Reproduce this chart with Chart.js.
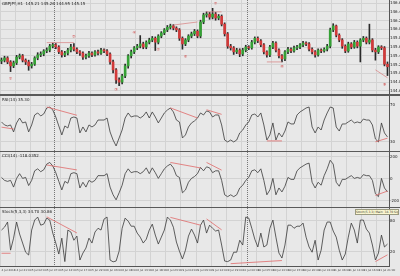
<!DOCTYPE html>
<html>
<head>
<meta charset="utf-8">
<script src="https://cdn.jsdelivr.net/npm/chart.js@4.4.1/dist/chart.umd.min.js"></script>
<style>
  html, body { margin: 0; padding: 0; background: #e8e8e8; }
  #wrap { position: relative; width: 400px; height: 276px; overflow: hidden; background: #e8e8e8; }
  canvas { position: absolute; left: 0; }
  .sep { position: absolute; left: 0; width: 400px; background: #5a5a5a; }
  #tip { position: absolute; left: 355px; top: 209px; width: 42px; height: 4px; background: #fbf7d0;
         border: 1px solid #9a9a80; font: 3px "DejaVu Sans"; line-height: 4px; color: #333; overflow: hidden; white-space: nowrap; }
</style>
</head>
<body>
<div id="wrap">
  <canvas id="main" width="400" height="94" style="top:0"></canvas>
  <div class="sep" style="top:94px;height:2px"></div>
  <canvas id="rsi" width="400" height="55" style="top:96px"></canvas>
  <div class="sep" style="top:151px;height:1px"></div>
  <canvas id="cci" width="400" height="55" style="top:152px"></canvas>
  <div class="sep" style="top:207px;height:1px"></div>
  <canvas id="stoch" width="400" height="68" style="top:208px"></canvas>
  <div id="tip">Stoch(5,3,3) Main: 34.70 Signal: 30.86</div>
</div>
<script>
// GBPJPY H1 candles
const opens = [145.28,145.30,145.35,145.26,145.17,145.24,145.37,145.40,145.30,145.26,
  145.17,145.21,145.35,145.42,145.44,145.51,145.53,145.62,145.65,145.60,
  145.49,145.42,145.46,145.53,145.60,145.55,145.49,145.46,145.37,145.40,
  145.46,145.42,145.49,145.46,145.53,145.51,145.44,145.26,145.08,144.85,
  144.80,144.94,145.17,145.40,145.49,145.58,145.62,145.67,145.60,145.71,
  145.76,145.80,145.71,145.85,145.92,145.99,146.05,146.08,146.03,145.99,
  145.80,145.67,145.76,145.85,145.90,145.96,145.85,146.17,146.33,146.35,
  146.28,146.35,146.26,146.30,146.12,145.90,145.62,145.58,145.49,145.53,
  145.44,145.53,145.60,145.58,145.71,145.80,145.74,145.65,145.49,145.42,
  145.60,145.69,145.53,145.40,145.33,145.49,145.55,145.51,145.58,145.60,
  145.65,145.69,145.67,145.55,145.49,145.42,145.53,145.51,145.55,145.62,
  145.99,146.08,145.87,145.76,145.62,145.51,145.67,145.60,145.71,145.62,
  145.76,145.80,145.71,145.76,145.53,145.49,145.60,145.58,145.21];
const highs = [145.35,145.39,145.38,145.29,145.28,145.41,145.44,145.43,145.33,145.30,
  145.25,145.38,145.47,145.49,145.54,145.58,145.66,145.69,145.68,145.63,
  145.52,145.50,145.57,145.66,145.68,145.58,145.52,145.49,145.44,145.50,
  145.49,145.52,145.53,145.57,145.56,145.54,145.47,145.30,145.11,144.90,
  144.98,145.21,145.43,145.53,145.61,145.66,145.86,145.71,145.74,145.80,
  145.84,145.83,145.88,145.95,146.02,146.09,146.12,146.11,146.06,146.02,
  145.83,145.79,145.88,145.94,146.00,145.99,146.21,146.37,146.40,146.39,
  146.48,146.39,146.34,146.33,146.15,145.93,145.66,145.61,145.57,145.56,
  145.57,145.64,145.63,145.75,145.83,145.83,145.77,145.68,145.51,145.64,
  145.73,145.72,145.56,145.43,145.52,145.59,145.58,145.62,145.64,145.68,
  145.73,145.72,145.70,145.58,145.52,145.56,145.56,145.58,145.66,146.03,
  146.13,146.10,145.90,145.79,145.65,145.71,145.70,145.75,145.74,145.79,
  145.84,145.83,146.12,145.79,145.57,145.63,145.63,145.61,145.26];
const lows = [145.22,145.26,145.22,145.04,145.13,145.20,145.33,145.26,145.20,145.07,
  145.12,145.18,145.31,145.38,145.40,145.47,145.49,145.58,145.56,145.45,
  145.37,145.38,145.42,145.49,145.51,145.45,145.41,145.32,145.33,145.36,
  145.38,145.39,145.42,145.43,145.47,145.40,145.21,145.01,144.77,144.72,
  144.76,144.90,145.12,145.35,145.45,145.54,145.58,145.56,145.56,145.67,
  145.72,145.52,145.67,145.81,145.88,145.95,146.01,145.99,145.95,145.75,
  145.55,145.63,145.72,145.81,145.86,145.81,145.81,146.13,146.28,146.23,
  146.24,146.21,146.22,146.08,145.85,145.57,145.53,145.43,145.45,145.38,
  145.40,145.49,145.54,145.55,145.67,145.70,145.61,145.44,145.37,145.38,
  145.56,145.49,145.35,145.26,145.29,145.45,145.47,145.48,145.54,145.56,
  145.61,145.63,145.51,145.44,145.37,145.39,145.47,145.48,145.51,145.58,
  145.95,145.83,145.72,145.57,145.47,145.48,145.56,145.57,145.58,145.26,
  145.72,145.67,145.67,145.49,145.30,145.45,145.54,145.17,144.95];
const closes = [145.30,145.35,145.26,145.17,145.24,145.37,145.40,145.30,145.26,145.17,
  145.21,145.35,145.42,145.44,145.51,145.53,145.62,145.65,145.60,145.49,
  145.42,145.46,145.53,145.60,145.55,145.49,145.46,145.37,145.40,145.46,
  145.42,145.49,145.46,145.53,145.51,145.44,145.26,145.08,144.85,144.80,
  144.94,145.17,145.40,145.49,145.58,145.62,145.67,145.60,145.71,145.76,
  145.80,145.71,145.85,145.92,145.99,146.05,146.08,146.03,145.99,145.80,
  145.67,145.76,145.85,145.90,145.96,145.85,146.17,146.33,146.35,146.28,
  146.35,146.26,146.30,146.12,145.90,145.62,145.58,145.49,145.53,145.44,
  145.53,145.60,145.58,145.71,145.80,145.74,145.65,145.49,145.42,145.60,
  145.69,145.53,145.40,145.33,145.49,145.55,145.51,145.58,145.60,145.65,
  145.69,145.67,145.55,145.49,145.42,145.53,145.51,145.55,145.62,145.99,
  146.08,145.87,145.76,145.62,145.51,145.67,145.60,145.71,145.62,145.76,
  145.80,145.71,145.76,145.53,145.49,145.60,145.58,145.21,145.15];

// indicators
const rsi = [51.7,48.4,47.3,48.4,40.8,50.6,56.0,50.6,51.7,40.8,
  48.4,59.3,61.5,58.2,60.4,66.9,68.0,64.7,57.1,47.3,
  37.5,47.3,45.1,56.0,57.1,56.0,39.7,46.2,40.8,48.4,
  46.2,48.4,53.8,53.8,53.8,56.0,40.8,32.0,25.5,34.2,
  42.9,56.0,61.5,57.1,58.2,58.2,56.0,58.2,62.6,56.0,
  62.6,57.1,50.6,56.0,61.5,64.7,66.9,62.6,53.8,51.7,
  34.2,37.5,46.2,50.6,52.8,56.0,61.5,59.3,63.7,62.6,
  57.1,59.3,59.3,48.4,32.0,29.9,32.0,29.9,32.0,39.7,
  42.9,48.4,51.7,59.3,60.4,57.1,61.5,48.4,32.0,37.5,
  50.6,32.0,39.7,35.3,41.8,51.7,49.5,49.5,59.3,62.6,
  64.7,66.9,68.0,46.2,39.7,46.2,42.9,53.8,61.5,68.0,
  66.9,46.2,41.8,49.5,49.5,51.7,53.8,50.6,51.7,50.6,
  54.9,53.8,53.8,48.4,33.1,29.9,50.6,39.7,35.3];
const cci = [14,-13,-22,-13,-74,5,48,5,14,-60,
  -13,74,92,66,83,135,150,118,57,-22,
  -100,-22,-39,48,57,48,-82,-30,-74,-13,
  -30,-13,30,30,30,48,-74,-144,-190,-126,
  -57,48,92,57,66,66,48,66,101,48,
  101,57,5,48,92,118,135,101,30,14,
  -126,-100,-30,5,22,48,105,74,110,101,
  57,74,74,-13,-144,-161,-144,-161,-144,-82,
  -57,-13,14,74,83,57,92,-13,-144,-100,
  5,-144,-82,-118,-66,14,-4,-4,74,101,
  118,135,144,-30,-82,-30,-57,30,92,170,
  135,-30,-66,-4,-4,14,30,5,14,5,
  39,30,30,-13,-135,-161,5,-82,-118];
const stoch = [61.6,67.2,77.0,23.0,46.0,77.0,53.9,36.6,19.0,13.6,
  61.6,80.8,86.6,71.0,73.0,84.6,80.8,55.8,36.6,15.5,
  46.0,1.0,61.6,57.8,42.0,50.0,4.0,17.4,27.0,46.0,
  36.6,57.8,65.0,61.6,82.7,86.6,4.0,0.5,2.0,21.0,
  65.0,84.6,78.8,69.0,69.0,55.8,48.0,36.6,44.0,61.6,
  73.0,52.0,34.7,48.0,61.6,86.6,80.8,67.0,38.6,21.0,
  5.9,23.0,50.0,63.5,52.0,36.6,71.0,80.8,55.8,71.0,
  65.0,59.7,61.6,32.8,2.0,1.0,4.0,19.0,19.0,42.0,
  32.8,86.6,84.6,65.0,44.0,29.0,55.8,29.0,32.8,65.0,
  80.8,48.0,17.4,7.8,32.8,71.0,71.0,65.0,69.0,69.0,
  75.0,48.0,29.0,19.0,42.0,4.0,23.0,61.6,77.0,77.0,
  59.7,48.0,23.0,4.0,15.5,48.0,75.0,61.6,36.6,80.8,
  80.8,63.5,55.8,32.8,4.0,17.4,52.0,29.0,34.7];

// x tick labels, one every 5 bars
const tickLabels = ['4 Jul 2018','4 Jul 21:00','5 Jul 02:00','5 Jul 07:00','5 Jul 12:00','5 Jul 17:00',
  '5 Jul 22:00','6 Jul 03:00','6 Jul 08:00','6 Jul 13:00','6 Jul 18:00','6 Jul 23:00','9 Jul 04:00',
  '9 Jul 09:00','9 Jul 14:00','9 Jul 19:00','10 Jul 00:00','10 Jul 05:00','10 Jul 10:00','10 Jul 15:00',
  '10 Jul 20:00','11 Jul 01:00','11 Jul 06:00','11 Jul 11:00','11 Jul 16:00','11 Jul 21:00'];
const priceTicks = [146.60,146.40,146.20,146.00,145.80,145.60,145.40,145.20,145.00,144.80,144.60];
const rsiTicks = [70, 30];
const cciTicks = [200, 0, -200];
const stochTicks = [80, 20];

// divergence lines: [bar1, value1, bar2, value2]
const mainLines = [[15,145.70,24,145.70],[57,146.10,65,146.17],[68,146.40,73,146.40],[88,145.26,93,145.26],[124,145.08,128,144.90]];
const rsiLines = [[0,46,4,44],[15,68,25,59],[56,67,65,56],[68,65,73,60],[88,31,93,31],[124,30,128,34]];
const cciLines = [[15,127,25,82],[56,150,66,100],[68,150,73,80],[124,-150,128,-110]];
const stochLines = [[0,17,3,17],[15,87,25,56],[56,86,66,71],[68,83,73,62],[76,-3,93,3],[124,1,128,14]];

// small markers on the price pane: [bar, price, text]
const marks = [[3,144.87,'①'],[24,145.83,'②'],[38,144.62,'③'],[44,145.92,'④'],[52,145.53,'⑤'],
  [61,145.37,'⑥'],[71,146.58,'⑦'],[93,145.15,'⑧'],[127,144.74,'⑨']];
const separators = [17, 81];

const FONT = 'DejaVu Sans';
const bars = closes.map((_, i) => i);

function xAxis(showLabels) {
  return {
    type: 'category',
    offset: true,
    grid: { offset: true, drawTicks: false, lineWidth: 1,
      color: c => c.index % 5 === 0 ? '#d3d3d3' : 'rgba(0,0,0,0)' },
    border: { display: showLabels, color: '#555' },
    ticks: {
      display: showLabels, autoSkip: false, maxRotation: 0, minRotation: 0, align: 'start', padding: 3,
      font: { size: 2.8, family: FONT }, color: '#444',
      callback: (v, i) => i % 5 === 0 ? tickLabels[i / 5] : ''
    },
    afterFit: s => { s.height = showLabels ? 10 : 0; s.paddingLeft = 0; s.paddingRight = 0; }
  };
}

function yAxis(min, max, ticks, digits) {
  return {
    position: 'right', min: min, max: max,
    afterBuildTicks: s => { s.ticks = ticks.map(v => ({ value: v })); },
    afterFit: s => { s.width = 11; s.paddingTop = 0; s.paddingBottom = 0; },
    grid: { color: '#d3d3d3', drawTicks: false },
    border: { color: '#555' },
    ticks: { padding: 1, font: { size: 4, family: FONT }, color: '#222',
      callback: v => Number(v).toFixed(digits) }
  };
}

function segSets(segs, color) {
  return segs.map(s => ({
    type: 'line',
    data: bars.map(i => i === s[0] ? s[1] : (i === s[2] ? s[3] : null)),
    spanGaps: true, borderColor: color, borderWidth: 0.8, pointRadius: 0, order: -1
  }));
}

const paneTitle = {
  id: 'paneTitle',
  afterDraw(chart, args, opts) {
    const ctx = chart.ctx;
    ctx.save();
    ctx.font = '4px ' + FONT;
    ctx.fillStyle = '#222';
    ctx.textBaseline = 'top';
    ctx.fillText(opts.text, chart.chartArea.left + 2, chart.chartArea.top + 2);
    ctx.restore();
  }
};

const periodSep = {
  id: 'periodSep',
  beforeDatasetsDraw(chart) {
    const x = chart.scales.x, a = chart.chartArea, ctx = chart.ctx;
    ctx.save();
    ctx.strokeStyle = '#777';
    ctx.lineWidth = 1;
    ctx.setLineDash([1, 1]);
    separators.forEach(i => {
      const px = Math.round((x.getPixelForValue(i) + x.getPixelForValue(i + 1)) / 2) + 0.5;
      ctx.beginPath(); ctx.moveTo(px, a.top); ctx.lineTo(px, a.bottom); ctx.stroke();
    });
    ctx.restore();
  }
};

const markText = {
  id: 'markText',
  afterDatasetsDraw(chart) {
    const ctx = chart.ctx;
    ctx.save();
    ctx.font = '4px ' + FONT;
    ctx.fillStyle = '#d04848';
    ctx.textAlign = 'center';
    ctx.textBaseline = 'middle';
    marks.forEach(m => ctx.fillText(m[2], chart.scales.x.getPixelForValue(m[0]), chart.scales.y.getPixelForValue(m[1])));
    ctx.restore();
  }
};

const base = {
  responsive: false, animation: false, devicePixelRatio: 1,
  layout: { padding: 0 },
  events: []
};

const up = '#35a035', down = '#d23a3a';
const isUp = i => closes[i] >= opens[i];

new Chart(document.getElementById('main'), {
  type: 'bar',
  data: {
    labels: bars,
    datasets: [
      { data: opens.map((o, i) => [o, closes[i]]), grouped: false, barThickness: 2, minBarLength: 1,
        backgroundColor: c => isUp(c.dataIndex) ? up : down, borderWidth: 0, order: 0 },
      { data: lows.map((l, i) => [l, highs[i]]), grouped: false, barThickness: 1,
        backgroundColor: '#2a2a2a', borderWidth: 0, order: 1 },
      ...segSets(mainLines, '#d98a8a')
    ]
  },
  options: Object.assign({}, base, {
    scales: { x: xAxis(false), y: yAxis(144.53, 146.67, priceTicks, 2) },
    plugins: { legend: { display: false }, tooltip: { enabled: false },
      paneTitle: { text: 'GBPJPY,H1  145.21 145.26 144.95 145.15' } }
  }),
  plugins: [paneTitle, periodSep, markText]
});

function indicator(id, values, min, max, ticks, digits, lines, title, bottom) {
  new Chart(document.getElementById(id), {
    type: 'line',
    data: {
      labels: bars,
      datasets: [
        { data: values, borderColor: '#3a3a3a', borderWidth: 0.8, pointRadius: 0, tension: 0 },
        ...segSets(lines, '#e06a6a')
      ]
    },
    options: Object.assign({}, base, {
      scales: { x: xAxis(bottom), y: yAxis(min, max, ticks, digits) },
      plugins: { legend: { display: false }, tooltip: { enabled: false }, paneTitle: { text: title } }
    }),
    plugins: [paneTitle, periodSep]
  });
}

indicator('rsi', rsi, 20, 80, rsiTicks, 0, rsiLines, 'RSI(14) 35.30', false);
indicator('cci', cci, -255, 245, cciTicks, 0, cciLines, 'CCI(14) -118.0352', false);
indicator('stoch', stoch, -7.5, 104, stochTicks, 0, stochLines, 'Stoch(5,3,3) 34.70 30.86', true);
</script>
</body>
</html>
